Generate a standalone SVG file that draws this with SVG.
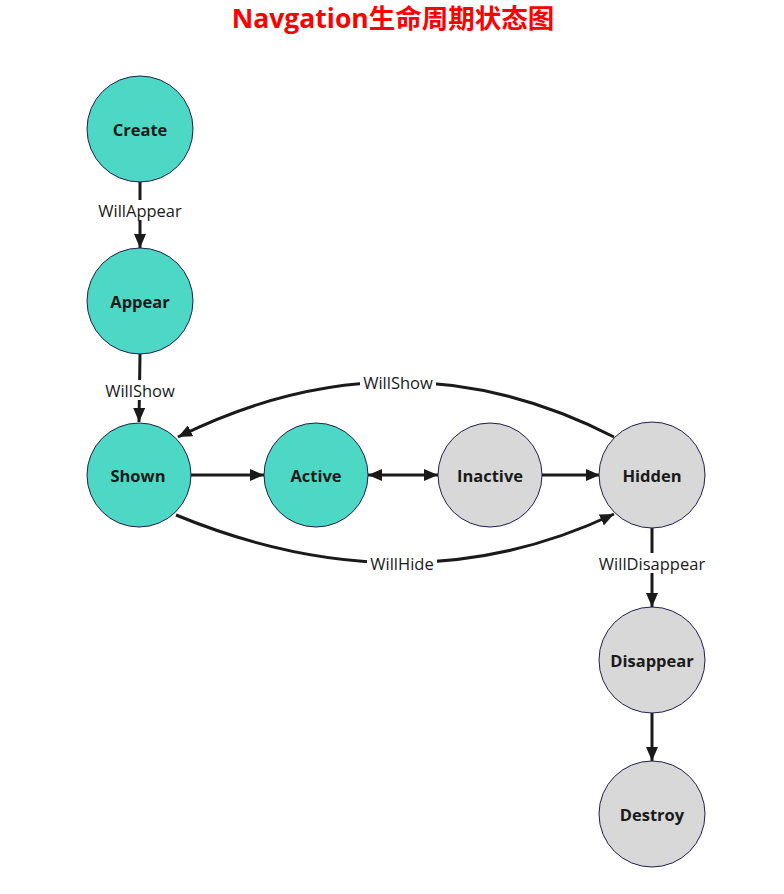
<svg xmlns="http://www.w3.org/2000/svg" width="784" height="894" viewBox="0 0 784 894">
<style>
.n circle{stroke:#1f1f4f;stroke-width:1}
.t circle{fill:#4dd8c6}
.g circle{fill:#d8d8d8}
.n text{font-family:"Open Sans","Noto Sans",sans-serif;font-weight:bold;font-size:16.5px;fill:#1a1a1a;text-anchor:middle;dominant-baseline:central}
.e path,.e line{stroke:#1a1a1a;stroke-width:3;fill:none}
.lb rect{fill:#fff}
.lb text{font-family:"Open Sans","Noto Sans",sans-serif;font-size:16.5px;fill:#1a1a1a;text-anchor:middle;dominant-baseline:central}
</style>
<defs>
<marker id="ah" viewBox="0 0 14 12" refX="14" refY="6" markerWidth="14" markerHeight="12" markerUnits="userSpaceOnUse" orient="auto-start-reverse">
<path d="M0,0 L14,6 L0,12 Z" fill="#1a1a1a"/>
</marker>
</defs>
<rect width="784" height="894" fill="#fff"/>
<text x="393" y="28" font-family="'Open Sans','Noto Sans CJK SC',sans-serif" font-weight="bold" font-size="26.5" fill="#ff0000" text-anchor="middle">Navgation生命周期状态图</text>
<g class="e" id="edges">
<line x1="140" y1="182" x2="140" y2="248" marker-end="url(#ah)"/>
<line x1="140" y1="354" x2="139" y2="422" marker-end="url(#ah)"/>
<line x1="191" y1="475" x2="264" y2="475" marker-end="url(#ah)"/>
<line x1="368" y1="475" x2="438" y2="475" marker-start="url(#ah)" marker-end="url(#ah)"/>
<line x1="542" y1="475" x2="600" y2="475" marker-end="url(#ah)"/>
<line x1="652" y1="528" x2="652" y2="607" marker-end="url(#ah)"/>
<line x1="652" y1="713" x2="652" y2="761" marker-end="url(#ah)"/>
<path d="M614,437 Q400,327 178,437" marker-end="url(#ah)"/>
<path d="M176,515 Q409,611 614,514" marker-end="url(#ah)"/>
</g>
<g class="lb" id="labels">
<rect x="96" y="200" width="88" height="20"/><text x="140" y="210">WillAppear</text>
<rect x="102" y="380" width="76" height="20"/><text x="140" y="390">WillShow</text>
<rect x="360" y="372" width="76" height="20"/><text x="398" y="382">WillShow</text>
<rect x="367" y="553" width="70" height="20"/><text x="402" y="563">WillHide</text>
<rect x="597" y="553" width="110" height="20"/><text x="652" y="563">WillDisappear</text>
</g>
<g class="n t" id="create"><circle cx="140" cy="129" r="53"/><text x="140" y="129">Create</text></g>
<g class="n t" id="appear"><circle cx="140" cy="301" r="53"/><text x="140" y="301">Appear</text></g>
<g class="n t" id="shown"><circle cx="139" cy="475" r="52"/><text x="138" y="475">Shown</text></g>
<g class="n t" id="active"><circle cx="316" cy="475" r="52"/><text x="316" y="475">Active</text></g>
<g class="n g" id="inactive"><circle cx="490" cy="475" r="52"/><text x="490" y="475">Inactive</text></g>
<g class="n g" id="hidden"><circle cx="652" cy="475" r="53"/><text x="652" y="475">Hidden</text></g>
<g class="n g" id="disappear"><circle cx="652" cy="660" r="53"/><text x="652" y="660">Disappear</text></g>
<g class="n g" id="destroy"><circle cx="652" cy="814" r="53"/><text x="652" y="814">Destroy</text></g>
</svg>
